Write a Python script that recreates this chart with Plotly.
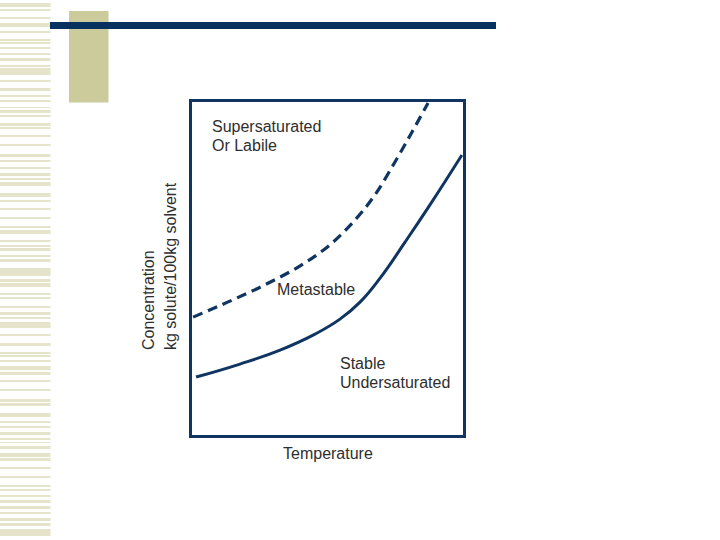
import plotly.graph_objects as go

W, H = 720, 540

# Curve data (temperature vs concentration, arbitrary 0-100 scales)
solubility_x = [1.5, 17.7, 32.5, 45.4, 54.6, 62.0, 69.4, 78.6, 87.8, 99.6]
solubility_y = [17.4, 21.3, 25.5, 30.3, 34.8, 39.9, 47.1, 57.9, 69.1, 84.1]
supersol_x = [0.4, 14.0, 26.9, 39.9, 50.9, 60.2, 67.5, 74.9, 81.2, 87.1]
supersol_y = [35.4, 40.2, 45.1, 50.8, 57.1, 64.6, 72.1, 82.0, 91.0, 99.7]

x_title = ["Temperature"]
y_title = ["Concentration", "kg solute/100kg solvent"]
label_labile = ["Supersaturated", "Or Labile"]
label_meta = ["Metastable"]
label_stable = ["Stable", "Undersaturated"]

NAVY = "#0f3560"
TEXT = "#2e2e2e"
FONT = "Liberation Sans, Arial, sans-serif"
FS = 16

# decorative barcode stripes on the left edge (top px, bottom px)
stripes = [(3,7),(9,11),(17,19),(23,27),(31,33),(39,41),(42,44),(47,49),(53,55),(58,61),
           (65,67),(68,75),(80,82),(88,91),(95,97),(100,102),(107,108),(110,113),(115,117),
           (123,126),(127,129),(135,137),(144,146),(154,157),(160,162),(167,169),(173,176),
           (178,180),(182,186),(193,197),(200,202),(208,210),(217,219),(226,228),(230,234),
           (240,242),(245,247),(248,251),(255,257),(259,262),(268,276),(279,282),(283,287),
           (293,295),(297,299),(306,308),(312,315),(317,319),(322,328),(334,336),(343,346),
           (352,354),(355,357),(360,362),(366,370),(372,375),(380,382),(389,391),(399,402),
           (403,406),(413,417),(421,423),(426,428),(432,435),(438,440),(442,443),(446,449),
           (453,457),(458,461),(467,469),(476,478),(485,487),(489,491),(495,497),(500,503),
           (506,509),(512,514),(518,521),(523,526),(529,533),(533,536)]

def px(x):
    return x / W

def py(y):
    return 1 - y / H

fig = go.Figure()
fig.add_trace(go.Scatter(x=solubility_x, y=solubility_y, mode="lines",
                         line=dict(color=NAVY, width=3, shape="spline", smoothing=1.3),
                         hoverinfo="skip"))
fig.add_trace(go.Scatter(x=supersol_x, y=supersol_y, mode="lines",
                         line=dict(color=NAVY, width=3.2, shape="spline", smoothing=1.0,
                                   dash="10px,6px"),
                         hoverinfo="skip"))

shapes = []
for (t, b) in stripes:
    shapes.append(dict(type="rect", xref="paper", yref="paper", x0=0, x1=px(50.5),
                       y0=py(b), y1=py(t), fillcolor="#e5e4cb", line=dict(width=0),
                       layer="below"))
shapes.append(dict(type="rect", xref="paper", yref="paper", x0=px(69), x1=px(108.5),
                   y0=py(102.5), y1=py(11), fillcolor="#cbcb9c", line=dict(width=0),
                   layer="below"))
shapes.append(dict(type="rect", xref="paper", yref="paper", x0=px(50), x1=px(496),
                   y0=py(29), y1=py(22), fillcolor="#07325f", line=dict(width=0),
                   layer="below"))

ann = []
def add_lines(lines, x, y0, anchor="left", step=19):
    for i, t in enumerate(lines):
        ann.append(dict(x=px(x), y=py(y0 + i * step), xref="paper", yref="paper", text=t,
                        xanchor=anchor, yanchor="middle", showarrow=False,
                        font=dict(family=FONT, size=FS, color=TEXT)))

add_lines(label_labile, 210, 126)
add_lines(label_meta, 275, 289)
add_lines(label_stable, 338, 363)
add_lines(x_title, 328, 453, anchor="center")
# rotated y title: lines bottom-aligned at y=352
for i, t in enumerate(y_title):
    ann.append(dict(x=px(148 + i * 22), y=py(352), xref="paper", yref="paper", text=t,
                    xanchor="center", yanchor="bottom", textangle=-90, showarrow=False,
                    font=dict(family=FONT, size=FS, color=TEXT)))

axis_common = dict(showgrid=False, zeroline=False, showticklabels=False, ticks="",
                   showline=True, linewidth=3, linecolor=NAVY, mirror=True, fixedrange=True)

fig.update_layout(
    width=W, height=H, autosize=False,
    margin=dict(l=0, r=0, t=0, b=0),
    paper_bgcolor="white", plot_bgcolor="white",
    showlegend=False,
    xaxis=dict(range=[0, 100], domain=[px(192), px(463)], **axis_common),
    yaxis=dict(range=[0, 100], domain=[py(435), py(102)], **axis_common),
    shapes=shapes, annotations=ann,
)

fig.write_html("out.html", config=dict(displayModeBar=False),
               post_script="document.body.style.margin='0';")
